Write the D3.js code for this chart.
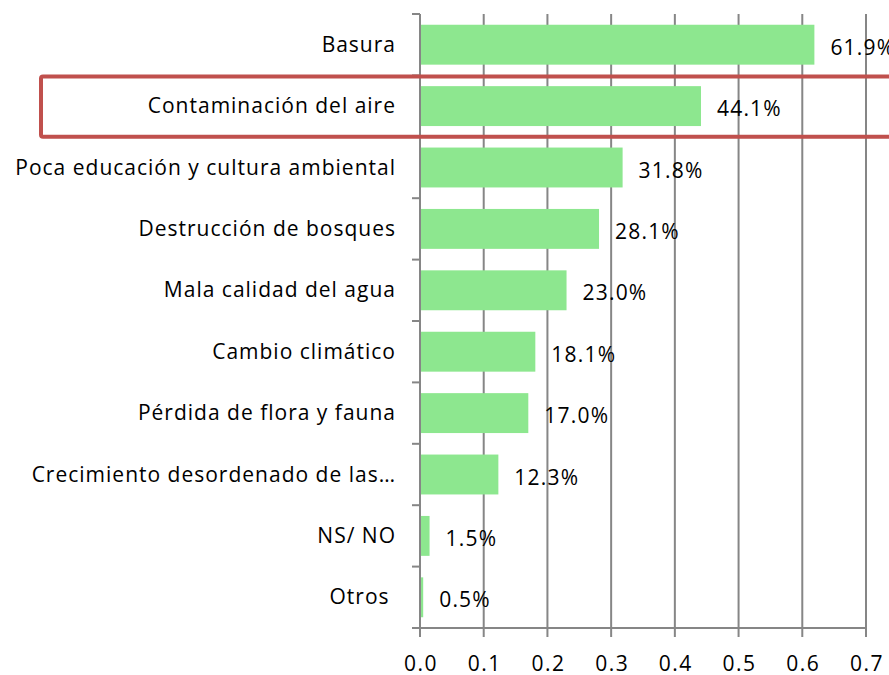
<!DOCTYPE html>
<html lang="es">
<style>
body { margin: 0; background: white; }
svg { display: block; font-family: "Open Sans", sans-serif; }
.grid line { stroke: #868686; stroke-width: 2px; }
.bar { fill: #8de78f; }
.cat { font-size: 21px; letter-spacing: 1px; fill: #000; white-space: pre; }
.val { font-size: 21px; letter-spacing: 1.2px; fill: #000; }
.tick { font-size: 21px; letter-spacing: 1.5px; fill: #000; }
</style>
<svg width="889" height="675"></svg>
<script src="https://d3js.org/d3.v7.min.js"></script>
<script>
var categories = ["Basura", "Contaminación del aire", "Poca educación y cultura ambiental",
                  "Destrucción de bosques", "Mala calidad del agua", "Cambio climático",
                  "Pérdida de flora y fauna", "Crecimiento desordenado de las…", "NS/ NO", "Otros "];
var values = [0.619, 0.441, 0.318, 0.281, 0.230, 0.181, 0.170, 0.123, 0.015, 0.005];
var xTicks = [0, 0.1, 0.2, 0.3, 0.4, 0.5, 0.6, 0.7];
var highlighted = "Contaminación del aire";

var dataset = categories.map(function(c, i) { return {cat: c, v: values[i]}; });

var svg = d3.select("svg");
var plotLeft = 420, plotRight = 866, plotTop = 14, plotBottom = 628;

var xScale = d3.scaleLinear().domain([0, 0.7]).range([plotLeft, plotRight]);
var band = d3.scaleBand().domain(categories).range([plotTop, plotBottom]);
var yScale = d3.scaleBand().domain(categories).range([plotTop, plotBottom]).paddingInner(0.35).paddingOuter(0.175);

// vertical gridlines
var grid = svg.append("g").attr("class", "grid");
grid.selectAll("line.v")
    .data(xTicks)
    .enter().append("line")
    .attr("x1", function(d) { return xScale(d); })
    .attr("x2", function(d) { return xScale(d); })
    .attr("y1", plotTop)
    .attr("y2", plotBottom + 9);

// bottom axis line
grid.append("line")
    .attr("x1", plotLeft - 8).attr("x2", plotRight)
    .attr("y1", plotBottom).attr("y2", plotBottom);

// category ticks on the left
var bounds = categories.map(function(c) { return band(c); }).concat([plotBottom]);
grid.selectAll("line.h")
    .data(bounds)
    .enter().append("line")
    .attr("x1", plotLeft - 8).attr("x2", plotLeft)
    .attr("y1", function(d) { return d; })
    .attr("y2", function(d) { return d; });

// bars
svg.append("g").selectAll("rect")
    .data(dataset)
    .enter().append("rect")
    .attr("class", "bar")
    .attr("x", xScale(0) + 1)
    .attr("y", function(d) { return yScale(d.cat); })
    .attr("width", function(d) { return xScale(d.v) - xScale(0) - 1; })
    .attr("height", yScale.bandwidth());

// value labels
svg.append("g").selectAll("text")
    .data(dataset)
    .enter().append("text")
    .attr("class", "val")
    .attr("x", function(d) { return xScale(d.v) + 16; })
    .attr("y", function(d) { return yScale(d.cat) + yScale.bandwidth() / 2 + 10; })
    .text(function(d) { return (d.v * 100).toFixed(1) + "%"; });

// category labels
svg.append("g").selectAll("text")
    .data(dataset)
    .enter().append("text")
    .attr("class", "cat")
    .attr("x", 396)
    .attr("y", function(d) { return band(d.cat) + band.bandwidth() / 2 + 7; })
    .attr("text-anchor", "end")
    .text(function(d) { return d.cat; });

// x tick labels
svg.append("g").selectAll("text")
    .data(xTicks)
    .enter().append("text")
    .attr("class", "tick")
    .attr("x", function(d) { return xScale(d) + 1; })
    .attr("y", 671)
    .attr("text-anchor", "middle")
    .text(function(d) { return d.toFixed(1); });

// highlight box
svg.append("rect")
    .attr("x", 41)
    .attr("y", band(highlighted) + 1)
    .attr("width", 900)
    .attr("height", band.bandwidth() - 1)
    .attr("rx", 2)
    .attr("fill", "none")
    .attr("stroke", "#c0504d")
    .attr("stroke-width", 4);
</script>
</html>
